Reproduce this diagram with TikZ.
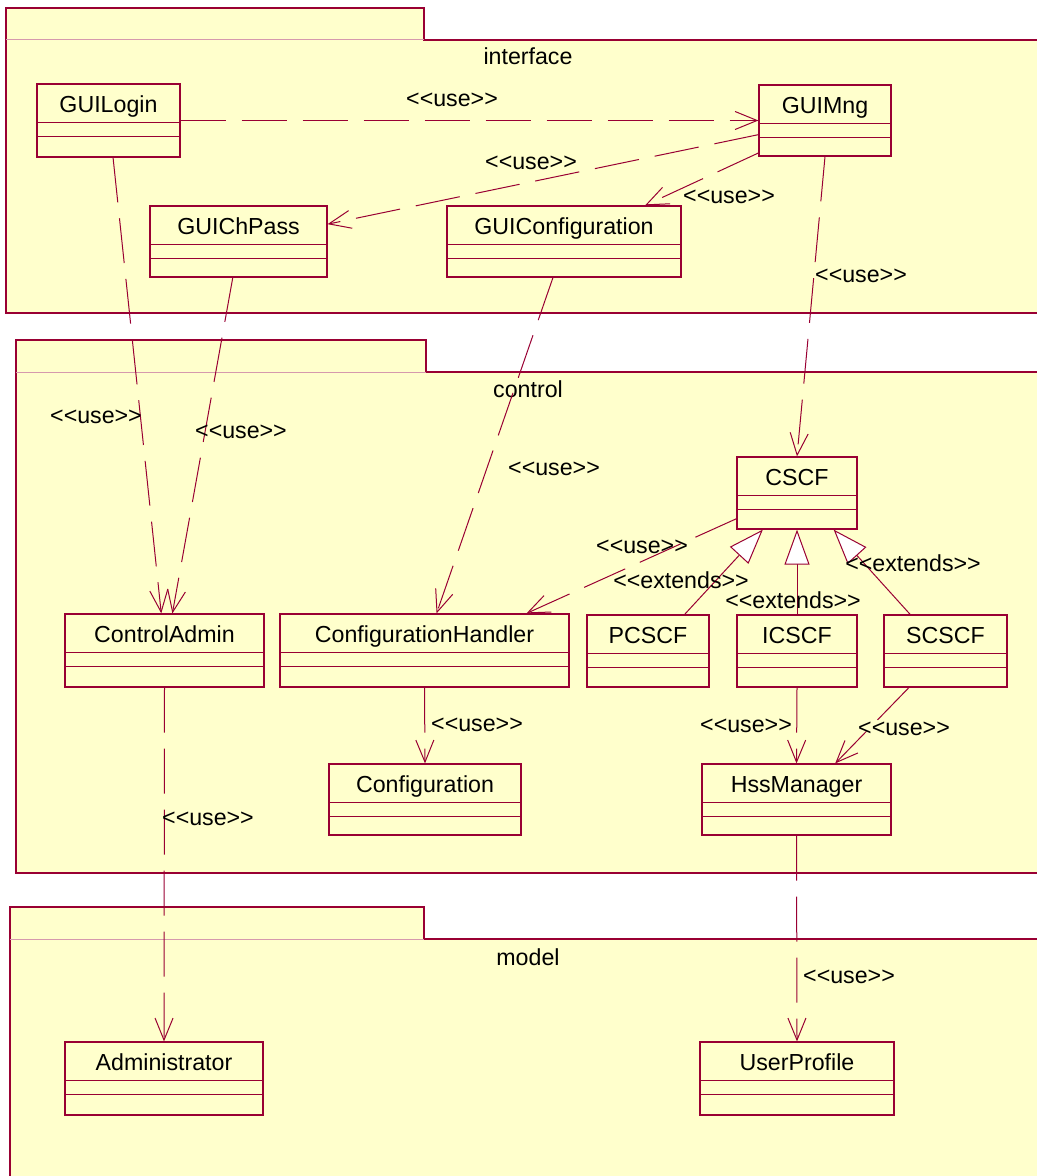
\documentclass[tikz,border=0pt]{standalone}
\usepackage{xcolor}
\definecolor{umlRed}{HTML}{990033}
\definecolor{umlFill}{HTML}{FFFFCC}
\usepackage{fontspec}
\setmainfont{Liberation Sans}
\usepackage{tikz}
\usetikzlibrary{arrows.meta,positioning,fit,calc}

\newcommand{\umlfont}{\fontsize{11.6pt}{14pt}\selectfont}
% keep << and >> from turning into guillemets
\newcommand{\usestereo}{<\kern0pt<use>\kern0pt>}
\newcommand{\extstereo}{<\kern0pt<extends>\kern0pt>}

% class box: id, x1, y1, x2, y2, name
\newcommand{\umlclass}[6]{%
  \node[classbox, fit={(#2,#3) (#4,#5)}] (#1) {};
  \node[classname] (#1-name) at ($(#1.north)+(0,29)$) {#6};
  \draw[classline] ($(#1.north west)+(0,39)$) -- ($(#1.north east)+(0,39)$);
  \draw[classline] ($(#1.north west)+(0,53)$) -- ($(#1.north east)+(0,53)$);
}

\tikzset{
  classbox/.style={draw=umlRed, fill=umlFill, line width=0.6pt, inner sep=0pt, rectangle},
  classname/.style={font=\umlfont, anchor=base, inner sep=0pt},
  classline/.style={draw=umlRed, line width=0.5pt},
  package/.style={draw=umlRed, fill=umlFill, line width=0.6pt},
  tabline/.style={draw=umlRed!40, line width=0.5pt},
  pkgname/.style={font=\umlfont, inner sep=0pt},
  stereo/.style={font=\umlfont, inner sep=0pt},
  usedep/.style={draw=umlRed, line width=0.5pt, dash pattern=on 22.5pt off 8pt,
    -{Straight Barb[length=11pt,width=9pt]}},
  extendsrel/.style={draw=umlRed, line width=0.5pt,
    -{Triangle[length=17.5pt,width=12.5pt,fill=white]}},
}

\begin{document}
\begin{tikzpicture}[x=0.5pt, y=-0.5pt]
    \useasboundingbox (0,0) rectangle (1037,1176);
    \clip (0,0) rectangle (1037,1176);

    % --- Packages ---
    \filldraw[package] (6,313) -- (6,8) -- (424,8) -- (424,40) -- (1045,40) -- (1045,313) -- cycle;
    \draw[tabline] (6,40) -- (424,40);
    \node[pkgname] (pkgInterface) at (528,56) {interface};

    \filldraw[package] (16,873) -- (16,340) -- (426,340) -- (426,372) -- (1045,372) -- (1045,873) -- cycle;
    \draw[tabline] (16,372) -- (426,372);
    \node[pkgname] (pkgControl) at (528,389) {control};

    \filldraw[package] (10,1190) -- (10,907) -- (424,907) -- (424,939) -- (1045,939) -- (1045,1190) -- cycle;
    \draw[tabline] (10,939) -- (424,939);
    \node[pkgname] (pkgModel) at (528,957) {model};

    % --- Classes: interface ---
    \umlclass{GUILogin}{37}{84}{180}{157}{GUILogin}
    \umlclass{GUIMng}{759}{85}{891}{156}{GUIMng}
    \umlclass{GUIChPass}{150}{206}{327}{277}{GUIChPass}
    \umlclass{GUIConfiguration}{447}{206}{681}{277}{GUIConfiguration}

    % --- Classes: control ---
    \umlclass{CSCF}{737}{457}{857}{529}{CSCF}
    \umlclass{ControlAdmin}{65}{614}{264}{687}{ControlAdmin}
    \umlclass{ConfigurationHandler}{280}{614}{569}{687}{ConfigurationHandler}
    \umlclass{PCSCF}{587}{615}{709}{687}{PCSCF}
    \umlclass{ICSCF}{737}{615}{857}{687}{ICSCF}
    \umlclass{SCSCF}{884}{615}{1007}{687}{SCSCF}
    \umlclass{Configuration}{329}{764}{521}{835}{Configuration}
    \umlclass{HssManager}{702}{764}{891}{835}{HssManager}

    % --- Classes: model ---
    \umlclass{Administrator}{65}{1042}{263}{1115}{Administrator}
    \umlclass{UserProfile}{700}{1042}{894}{1115}{UserProfile}

    % --- Dependencies ---
    \draw[usedep] (GUILogin.east) -- (GUIMng.west);
    \draw[usedep] (GUIMng.192) -- (GUIChPass.11);
    \draw[usedep] (GUIMng.206) -- (GUIConfiguration.24);
    \draw[usedep] (GUIMng.south) -- (CSCF.north);
    \draw[usedep] (GUILogin.277) -- (ControlAdmin.95);
    \draw[usedep] (GUIChPass.261) -- (ControlAdmin.78);
    \draw[usedep] (GUIConfiguration.253) -- (ConfigurationHandler.72);
    \draw[usedep] (CSCF.203) -- (ConfigurationHandler.20);
    \draw[usedep] (ConfigurationHandler.south) -- (Configuration.north);
    \draw[usedep] (ICSCF.south) -- (HssManager.north);
    \draw[usedep] (SCSCF.225) -- (HssManager.43);
    \draw[usedep] (ControlAdmin.south) -- (Administrator.north);
    \draw[usedep] (HssManager.south) -- (UserProfile.north);

    % --- Generalizations ---
    \draw[extendsrel] (PCSCF.45) -- (CSCF.227);
    \draw[extendsrel] (ICSCF.north) -- (CSCF.south);
    \draw[extendsrel] (SCSCF.134) -- (CSCF.315);

    % --- Stereotype labels ---
    \node[stereo] (lblLoginMng) at (452,100) {\usestereo};
    \node[stereo] (lblMngChPass) at (531,163) {\usestereo};
    \node[stereo] (lblMngConf) at (729,197) {\usestereo};
    \node[stereo] (lblMngCSCF) at (861,276) {\usestereo};
    \node[stereo] (lblLoginAdmin) at (96,417) {\usestereo};
    \node[stereo] (lblChPassAdmin) at (241,432) {\usestereo};
    \node[stereo] (lblConfHandler) at (554,469) {\usestereo};
    \node[stereo] (lblCSCFHandler) at (642,547) {\usestereo};
    \node[stereo] (lblPCSCF) at (681,580) {\extstereo};
    \node[stereo] (lblICSCF) at (793,600) {\extstereo};
    \node[stereo] (lblSCSCF) at (913,563) {\extstereo};
    \node[stereo] (lblHandlerConf) at (477,725) {\usestereo};
    \node[stereo] (lblICSCFHss) at (746,726) {\usestereo};
    \node[stereo] (lblSCSCFHss) at (904,729) {\usestereo};
    \node[stereo] (lblAdmin) at (208,819) {\usestereo};
    \node[stereo] (lblHssProfile) at (849,977) {\usestereo};
\end{tikzpicture}
\end{document}
